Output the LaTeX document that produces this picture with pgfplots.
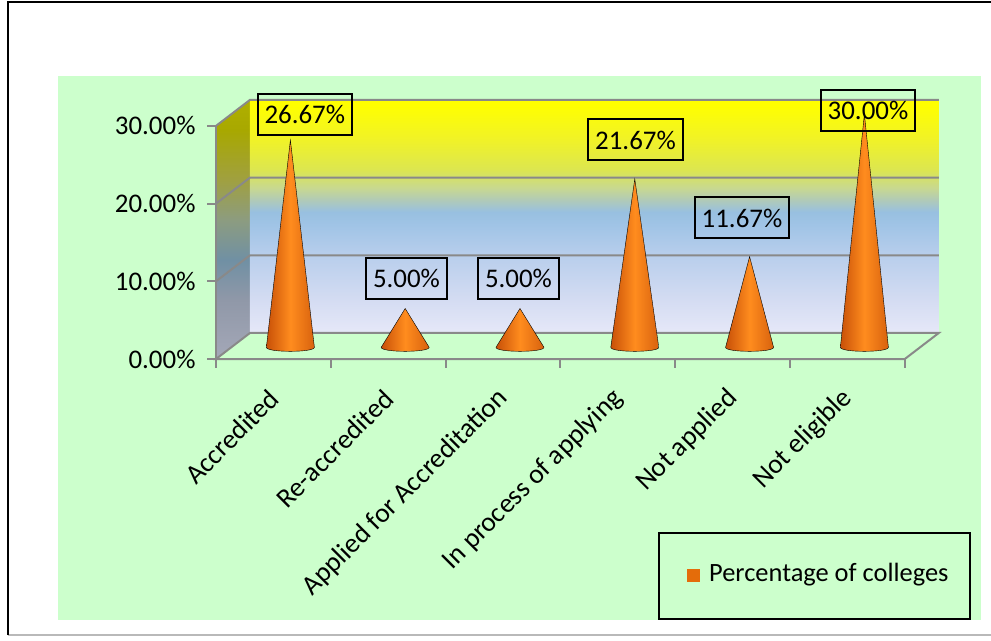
\documentclass[border=0pt]{standalone}
\usepackage{fontspec}
\setmainfont{Carlito}
\usepackage{pgfplots}
\pgfplotsset{compat=1.18}
\usepackage{pgfplotstable}

% colours
\definecolor{bggreen}{HTML}{CCFFCC}
\definecolor{gridgray}{HTML}{898989}
\definecolor{coneL}{HTML}{C85008}
\definecolor{coneM}{HTML}{FF8C1E}
\definecolor{coneR}{HTML}{D8620E}
\definecolor{keyorange}{HTML}{E46C0A}
% back wall
\definecolor{wbA}{HTML}{E6E8F8}
\definecolor{wbB}{HTML}{D4DCF2}
\definecolor{wbC}{HTML}{B8CEEC}
\definecolor{wbD}{HTML}{A0C4E6}
\definecolor{wbE}{HTML}{98C0E0}
\definecolor{wbF}{HTML}{B0CAB8}
\definecolor{wbG}{HTML}{C8D890}
\definecolor{wbH}{HTML}{DCE650}
\definecolor{wbI}{HTML}{F0F228}
\definecolor{wbJ}{HTML}{FFFF00}
% side wall
\definecolor{lwA}{HTML}{A4A8B8}
\definecolor{lwB}{HTML}{9098A8}
\definecolor{lwC}{HTML}{7090A4}
\definecolor{lwD}{HTML}{8C9C80}
\definecolor{lwE}{HTML}{A0A040}
\definecolor{lwF}{HTML}{A8A800}
\definecolor{lwG}{HTML}{B0B000}

\pgfdeclareverticalshading{backwall}{100bp}{%
  color(0bp)=(wbA); color(25bp)=(wbA); color(32.1bp)=(wbB); color(41.7bp)=(wbC);
  color(48.2bp)=(wbD); color(51bp)=(wbE); color(53.5bp)=(wbF); color(56.1bp)=(wbG);
  color(60bp)=(wbH); color(66.4bp)=(wbI); color(73.9bp)=(wbJ); color(100bp)=(wbJ)}
\pgfdeclareverticalshading{sidewall}{100bp}{%
  color(0bp)=(lwA); color(25bp)=(lwA); color(36.4bp)=(lwB); color(44.1bp)=(lwC);
  color(51.8bp)=(lwD); color(59.6bp)=(lwE); color(69.2bp)=(lwF); color(75bp)=(lwG);
  color(100bp)=(lwG)}

\pgfdeclareplotmark{void}{}

% category position, percentage, label offset (bp) from the cone tip
\pgfplotstableread{
pos val lx ly
0.5 26.67 14.4 25.6
1.5 5.00 1.3 30
2.5 5.00 -1.5 30
3.5 21.67 0.7 39
4.5 11.67 -7.6 38.7
5.5 30.00 3.6 3.7
}\conedata

\begin{document}
\begin{tikzpicture}[font=\fontsize{26.5}{31}\selectfont]
\useasboundingbox (-216bp,-282bp) rectangle (775bp,359bp);
\fill[bggreen] (-158bp,-261bp) rectangle (765bp,283bp);
\draw[gray!55, line width=1.5bp] (-208bp,-276bp) -- (776bp,-276bp);
\draw[black, line width=2.5bp] (-208bp,-276bp) -- (-208bp,357bp) -- (776bp,357bp);

\begin{axis}[
  at={(0bp,0bp)}, anchor=south west,
  x=114.8bp, y=7.77bp,
  xmin=0, xmax=6.296, ymin=0, ymax=33.35,
  clip=false,
  axis line style={draw=none},
  major tick length=0pt,
  tick style={draw=none},
  tick label style={font=\fontsize{27}{32}\selectfont},
  xtick={0.5,1.5,2.5,3.5,4.5,5.5},
  xticklabels={Accredited,Re-accredited,Applied for Accreditation,In process of applying,Not applied,Not eligible},
  xticklabel style={xshift=3bp, yshift=-33bp, rotate=45, anchor=east, font=\fontsize{27.5}{32}\selectfont},
  ytick={0,10,20,30},
  yticklabel={\pgfmathprintnumber[fixed,zerofill,precision=2]{\tick}\%},
  yticklabel style={xshift=-17bp},
  /pgf/number format/assume math mode=true,
]
% walls
\shade[shading=sidewall] (axis cs:0,0) -- (axis cs:0,30) -- (axis cs:0.296,33.35) -- (axis cs:0.296,3.35) -- cycle;
\shade[shading=backwall] (axis cs:0.296,3.35) rectangle (axis cs:6.296,33.35);
% gridlines and floor edges
\draw[gridgray, line width=2bp] (axis cs:0,10) -- (axis cs:0.296,13.35) -- (axis cs:6.296,13.35);
\draw[gridgray, line width=2bp] (axis cs:0,20) -- (axis cs:0.296,23.35) -- (axis cs:6.296,23.35);
\draw[gridgray, line width=2bp] (axis cs:0,30) -- (axis cs:0.296,33.35) -- (axis cs:6.296,33.35);
\draw[gridgray, line width=2bp] (axis cs:0,0) -- (axis cs:0.296,3.35) -- (axis cs:6.296,3.35) -- (axis cs:6,0) -- cycle;
\draw[gridgray, line width=2bp] (axis cs:0,0) -- (axis cs:0,30);
% ticks
\pgfplotsinvokeforeach{0,10,20,30}{\draw[gridgray, line width=2bp] (axis cs:0,#1) -- ++(-9bp,0);}
\pgfplotsinvokeforeach{0,1,2,3,4,5,6}{\draw[gridgray, line width=2bp] (axis cs:#1,0) -- ++(0,-9bp);}

% cones: tip at the value, base on the floor
\addplot[scatter, only marks, mark=void,
  visualization depends on={\thisrow{val}\as\cval},
  scatter/@pre marker code/.code={%
    \pgfmathsetmacro\coneh{\cval*7.77}%
    \shade[left color=coneL, right color=coneR, middle color=coneM]
      (-24bp,-\coneh bp) -- (0bp,0bp) -- (24bp,-\coneh bp)
      .. controls (24bp,-\coneh bp-5.3bp) and (-24bp,-\coneh bp-5.3bp) .. cycle;
  },
  scatter/@post marker code/.code={},
] table[x expr=\thisrow{pos}+0.148, y expr=\thisrow{val}+1.5] {\conedata};

% value labels
\addplot[only marks, mark=void,
  visualization depends on={\thisrow{val}\as\cval},
  visualization depends on={\thisrow{lx}\as\clx},
  visualization depends on={\thisrow{ly}\as\cly},
  nodes near coords={\pgfmathprintnumber[fixed,zerofill,precision=2]{\cval}\%},
  nodes near coords align={center},
  every node near coord/.append style={anchor=center, xshift=\clx*1bp, yshift=\cly*1bp,
    draw=black, line width=2bp, inner xsep=7bp, inner ysep=0pt, minimum height=41bp,
    text=black, font=\fontsize{27}{32}\selectfont},
] table[x expr=\thisrow{pos}+0.148, y expr=\thisrow{val}+1.5] {\conedata};
\end{axis}

% legend
\draw[black, line width=2.5bp] (443bp,-174bp) rectangle (754bp,-260bp);
\fill[keyorange] (471bp,-210bp) rectangle (484bp,-223bp);
\node[anchor=base west, inner sep=0pt] at (493bp,-222bp) {Percentage of colleges};
\end{tikzpicture}
\end{document}
